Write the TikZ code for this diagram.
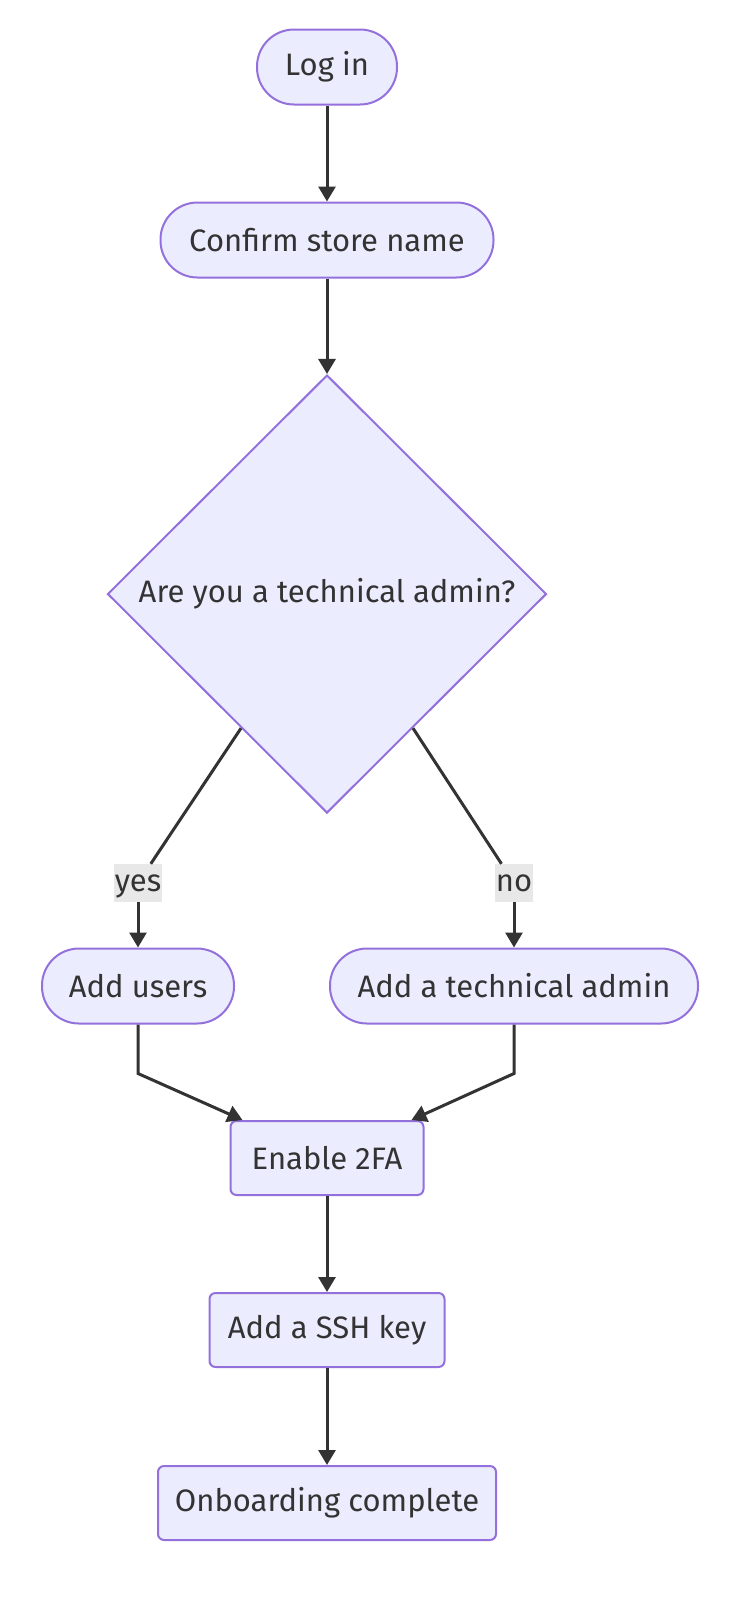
\documentclass[tikz,border=0pt]{standalone}
\usepackage{fontspec}
\setmainfont{Fira Sans}
\usepackage{tikz}
\usetikzlibrary{shapes.geometric,arrows.meta,positioning,calc}
\definecolor{boxfill}{HTML}{ECECFF}
\definecolor{boxline}{HTML}{9370DB}
\definecolor{ink}{HTML}{333333}
\definecolor{labelbg}{HTML}{E8E8E8}

\begin{document}
\begin{tikzpicture}[x=1pt,y=-1pt,
                   every node/.style={font=\fontsize{31}{36}\selectfont,text=ink},
                   term/.style={draw=boxline,fill=boxfill,line width=2pt,rounded corners=37pt,minimum height=75pt,inner xsep=0pt},
                   task/.style={draw=boxline,fill=boxfill,line width=2pt,rounded corners=6pt,minimum height=74pt,inner xsep=0pt},
                   ask/.style={draw=boxline,fill=boxfill,line width=2pt,diamond,inner sep=0pt,minimum width=439pt,minimum height=438pt},
                   answer/.style={fill=labelbg,inner xsep=1pt,inner ysep=4pt,text height=23pt,text depth=7pt},
                   flow/.style={draw=ink,line width=3pt,-{Triangle[width=17pt,length=15pt]}}]
\useasboundingbox (0,0) rectangle (748,1618);
\node[term,minimum width=140pt] (login) at (327,67) {Log in};
\node[term,minimum width=333pt] (confirm) at (327,240) {Confirm store name};
\node[ask] (admin) at (327,594) {Are you a technical admin?};
\node[answer] (yes) at (138,883) {yes};
\node[answer] (no) at (514,883) {no};
\node[term,minimum width=192pt] (users) at (138,986) {Add users};
\node[term,minimum width=368pt] (addadmin) at (514,986) {Add a technical admin};
\node[task,minimum width=193pt] (twofa) at (327,1158) {Enable 2FA};
\node[task,minimum width=235pt] (ssh) at (327,1330) {Add a SSH key};
\node[task,minimum width=338pt] (done) at (327,1503) {Onboarding complete};
\draw[flow] (login) -- (confirm);
\draw[flow] (confirm) -- (admin);
\draw[line width=3pt,draw=ink] ($(admin.west)!0.61!(admin.south)$) -- (yes);
\draw[flow] (yes) -- (users);
\draw[line width=3pt,draw=ink] ($(admin.east)!0.61!(admin.south)$) -- (no);
\draw[flow] (no) -- (addadmin);
\draw[flow] (users.south) -- ++(0,49) -- ([xshift=13pt]twofa.north west);
\draw[flow] (addadmin.south) -- ++(0,49) -- ([xshift=-13pt]twofa.north east);
\draw[flow] (twofa) -- (ssh);
\draw[flow] (ssh) -- (done);
\end{tikzpicture}
\end{document}
